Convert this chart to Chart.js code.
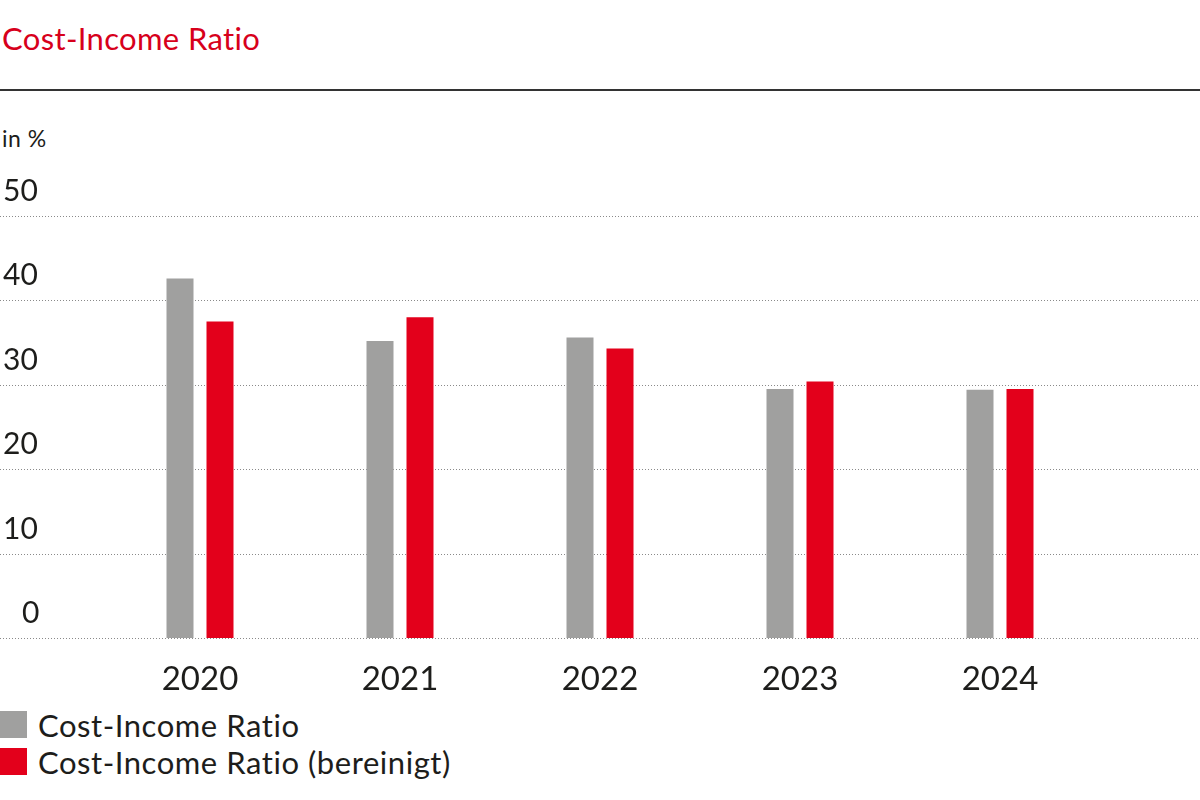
<!DOCTYPE html>
<html>
<head>
<meta charset="utf-8">
<script src="https://cdn.jsdelivr.net/npm/chart.js@4.4.1/dist/chart.umd.min.js"></script>
<style>
	html, body { margin: 0; padding: 0; background: #fff; width: 1200px; height: 800px; overflow: hidden; font-family: 'Lato', sans-serif; color: #1d1d1b; }
	.title { position: absolute; left: 2px; top: 18px; font-size: 31px; color: #d7001b; line-height: 40px; letter-spacing: 0.35px; }
	.rule { position: absolute; left: 0; top: 89px; width: 1200px; height: 2px; background: #333; }
	.unit { position: absolute; left: 2px; top: 125px; font-size: 23px; line-height: 26px; letter-spacing: 0.5px; }
	.chart-wrap { position: absolute; left: 0; top: 100px; width: 1200px; height: 600px; }
	.legend { position: absolute; left: 0; top: 706px; }
	.lg-item { display: flex; align-items: center; height: 37px; font-size: 31px; letter-spacing: 0.55px; }
	.lg-box { width: 27px; height: 27px; margin-right: 11px; }
</style>
</head>
<body>
<div class="title">Cost-Income Ratio</div>
<div class="rule"></div>
<div class="unit">in %</div>
<div class="chart-wrap"><canvas id="cir"></canvas></div>
<div class="legend" id="legend"></div>
<script>
	// Data
	const years = ['2020', '2021', '2022', '2023', '2024'];
	const cir = [42.6, 35.2, 35.6, 29.5, 29.4];
	const cirAdjusted = [37.5, 38.0, 34.3, 30.4, 29.5];
	const seriesNames = ['Cost-Income Ratio', 'Cost-Income Ratio (bereinigt)'];
	const yTicks = [0, 10, 20, 30, 40, 50];

	const C = { grey: '#a0a09f', red: '#e3001b', grid: '#8a8a8a', text: '#1d1d1b' };

	// full-width dotted grid + left tick labels above lines
	const fullGrid = {
		id: 'fullGrid',
		beforeDatasetsDraw(chart) {
			const { ctx, scales: { y }, width } = chart;
			ctx.save();
			ctx.strokeStyle = C.grid;
			ctx.lineWidth = 1;
			ctx.setLineDash([1, 2]);
			ctx.font = "30px 'Lato', sans-serif";
			ctx.fillStyle = C.text;
			ctx.textBaseline = 'middle';
			ctx.textAlign = 'left';
			yTicks.forEach(v => {
				const py = Math.round(y.getPixelForValue(v)) + 0.5;
				ctx.beginPath();
				ctx.moveTo(0, py);
				ctx.lineTo(width, py);
				ctx.stroke();
				ctx.fillText(String(v), v === 0 ? 22 : 3, py - 25);
			});
			ctx.restore();
		}
	};

	const chart = new Chart(document.getElementById('cir'), {
		type: 'bar',
		data: {
			labels: years,
			datasets: [
				{ label: seriesNames[0], data: cir, backgroundColor: C.grey },
				{ label: seriesNames[1], data: cirAdjusted, backgroundColor: C.red }
			]
		},
		options: {
			responsive: true,
			maintainAspectRatio: false,
			animation: false,
			categoryPercentage: 0.4,
			barPercentage: 0.675,
			layout: { padding: { left: 100, right: 100, top: 116, bottom: 0 } },
			plugins: { legend: { display: false }, tooltip: { enabled: false } },
			scales: {
				x: {
					grid: { display: false },
					border: { display: false },
					ticks: { color: C.text, font: { family: "'Lato', sans-serif", size: 33 }, padding: 14 },
					afterFit: s => { s.height = 62; }
				},
				y: {
					display: false,
					min: 0,
					max: 50
				}
			}
		},
		plugins: [fullGrid]
	});

	// legend
	document.getElementById('legend').innerHTML = chart.data.datasets.map(d => `
		<div class="lg-item"><span class="lg-box" style="background:${d.backgroundColor}"></span><span>${d.label}</span></div>
	`).join('');
</script>
</body>
</html>
